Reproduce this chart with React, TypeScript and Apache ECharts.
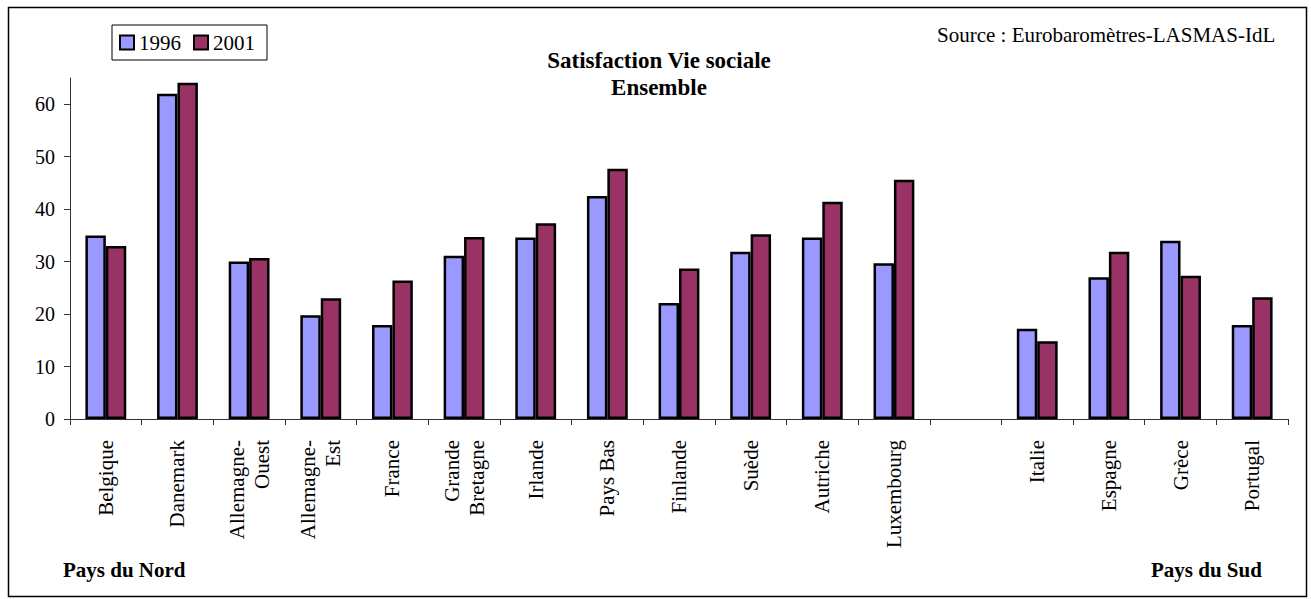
import React, { useEffect, useRef } from "react";
import * as echarts from "echarts";

const categories = [
  "Belgique", "Danemark", "Allemagne-Ouest", "Allemagne-Est", "France",
  "Grande Bretagne", "Irlande", "Pays Bas", "Finlande", "Suède", "Autriche",
  "Luxembourg", "", "Italie", "Espagne", "Grèce", "Portugal",
];
const values1996 = [35, 62, 30, 19.8, 17.9, 31.1, 34.6, 42.5, 22.1, 31.9, 34.6, 29.7, null, 17.2, 27, 34, 17.9];
const values2001 = [33, 64.1, 30.7, 23, 26.4, 34.7, 37.3, 47.7, 28.7, 35.2, 41.4, 45.6, null, 14.8, 31.9, 27.3, 23.2];
const yTicks = [0, 10, 20, 30, 40, 50, 60];
const seriesNames = ["1996", "2001"];
const labelBreaks: Record<string, string> = {
  "Allemagne-Ouest": "Allemagne-\nOuest",
  "Allemagne-Est": "Allemagne-\nEst",
  "Grande Bretagne": "Grande\nBretagne",
};

const FONT = "Liberation Serif";

function txt(text: string, x: number, y: number, size: number, bold: boolean, align: string) {
  return {
    type: "text",
    x,
    y,
    silent: true,
    style: {
      text,
      fontFamily: FONT,
      fontSize: size,
      fontWeight: bold ? "bold" : "normal",
      fill: "#000",
      textAlign: align,
      textVerticalAlign: "middle",
    },
  };
}

export default function App() {
  const ref = useRef<HTMLDivElement>(null);
  useEffect(() => {
    if (!ref.current) return;
    const chart = echarts.init(ref.current, undefined, { renderer: "svg" });
    chart.setOption({
      animation: false,
      backgroundColor: "#ffffff",
      textStyle: { fontFamily: FONT, color: "#000" },
      grid: { left: 70, right: 23, top: 78, bottom: 180, containLabel: false },
      legend: {
        left: 112,
        top: 25,
        orient: "horizontal",
        padding: [7, 12, 7, 7],
        borderColor: "#000",
        borderWidth: 1,
        itemWidth: 14,
        itemHeight: 14,
        itemGap: 12,
        icon: "rect",
        textStyle: { fontFamily: FONT, fontSize: 21, color: "#000" },
        itemStyle: { borderColor: "#000", borderWidth: 2 },
        data: seriesNames,
      },
      xAxis: {
        type: "category",
        data: categories,
        boundaryGap: true,
        axisLine: { lineStyle: { color: "#333", width: 1 } },
        axisTick: { show: true, length: 6, inside: false, lineStyle: { color: "#333" } },
        axisLabel: {
          interval: 0,
          rotate: 90,
          margin: 21,
          fontFamily: FONT,
          fontSize: 21,
          lineHeight: 25,
          color: "#000",
          formatter: (v: string) => labelBreaks[v] ?? v,
        },
        splitLine: { show: false },
      },
      yAxis: {
        type: "value",
        min: 0,
        max: 65,
        interval: 10,
        axisLine: { show: true, lineStyle: { color: "#333", width: 1 } },
        axisTick: { show: true, length: 6, inside: false, lineStyle: { color: "#333" }, customValues: yTicks },
        axisLabel: { margin: 15, fontFamily: FONT, fontSize: 20, color: "#000", customValues: yTicks },
        splitLine: { show: false },
      },
      series: [
        {
          name: seriesNames[0],
          type: "bar",
          data: values1996,
          barGap: "0%",
          barCategoryGap: "43%",
          itemStyle: { color: "#9999FF", borderColor: "#000", borderWidth: 2.5 },
        },
        {
          name: seriesNames[1],
          type: "bar",
          data: values2001,
          barGap: "0%",
          barCategoryGap: "43%",
          itemStyle: { color: "#993366", borderColor: "#000", borderWidth: 2.5 },
        },
      ],
      graphic: [
        {
          type: "rect",
          shape: { x: 8.5, y: 7.5, width: 1298, height: 589 },
          style: { fill: "none", stroke: "#000", lineWidth: 1.5 },
          silent: true,
        },
        txt("Satisfaction Vie sociale", 659, 60.6, 23, true, "center"),
        txt("Ensemble", 659, 87.6, 23, true, "center"),
        txt("Source : Eurobaromètres-LASMAS-IdL", 937, 34.6, 21, false, "left"),
        txt("Pays du Nord", 63, 569.7, 21, true, "left"),
        txt("Pays du Sud", 1151, 569.7, 21, true, "left"),
      ],
    });
    return () => chart.dispose();
  }, []);
  return (
    <div
      ref={ref}
      style={{ position: "absolute", left: 0, top: 0, width: 1311, height: 599 }}
    />
  );
}
